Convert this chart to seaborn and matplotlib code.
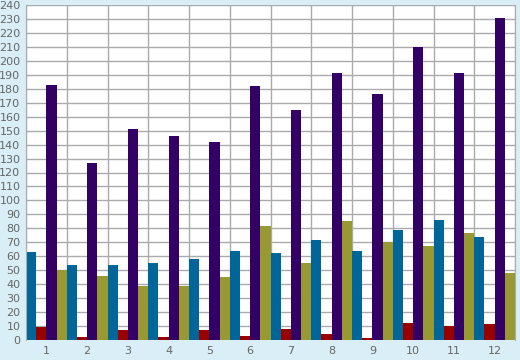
import numpy as np
import pandas as pd
import matplotlib
matplotlib.use("Agg")
import matplotlib.pyplot as plt
import seaborn as sns

# Data
months = ["1", "2", "3", "4", "5", "6", "7", "8", "9", "10", "11", "12"]
series_a = [63, 54, 54, 55, 58, 64, 62, 72, 64, 79, 86, 74]        # blue
series_b = [9, 2, 7, 2, 7, 3, 8, 4, 1.5, 12, 10, 11.5]               # red
series_c = [183, 127, 151, 146, 142, 182, 165, 191, 176, 210, 191, 231]  # purple
series_d = [50, 46, 39, 39, 45, 82, 55, 85, 70, 67, 77, 48]         # olive

series_names = ["A", "B", "C", "D"]
colors = ["#006699", "#990000", "#330066", "#999933"]

df = pd.DataFrame({
    "month": months * 4,
    "series": np.repeat(series_names, len(months)),
    "value": series_a + series_b + series_c + series_d,
})

sns.set_style("white")

fig = plt.figure(figsize=(5.2, 3.6), dpi=100)
fig.patch.set_facecolor("#D9EEF6")
ax = fig.add_axes([26 / 520, 20 / 360, 489 / 520, 335 / 360])
ax.set_facecolor("white")

sns.barplot(
    data=df, x="month", y="value", hue="series",
    order=months, hue_order=series_names,
    palette=colors, width=1.0, dodge=True,
    saturation=1, legend=False, ax=ax, linewidth=0,
)

ax.set_xlim(-0.5, len(months) - 0.5)
ax.set_ylim(0, 240)
ax.set_yticks(np.arange(0, 241, 10))
ax.set_xticks(np.arange(len(months)))
ax.set_xticklabels(months)
ax.set_xticks(np.arange(len(months) + 1) - 0.5, minor=True)

ax.grid(False)
ax.yaxis.grid(True, color="#AAAAAA", linewidth=1)
ax.xaxis.grid(True, which="minor", color="#AAAAAA", linewidth=1)
ax.set_axisbelow(True)

ax.tick_params(axis="x", which="major", length=0, labelsize=8,
               labelcolor="#666666", pad=4)
ax.tick_params(axis="x", which="minor", length=4, color="#888888",
               direction="out")
ax.tick_params(axis="y", length=2, color="#888888", labelsize=8,
               labelcolor="#666666", pad=2, direction="out")

for side in ["top", "bottom"]:
    ax.spines[side].set_visible(False)
for side in ["left", "right"]:
    ax.spines[side].set_visible(True)
    ax.spines[side].set_color("#AAAAAA")

ax.set_xlabel("")
ax.set_ylabel("")

fig.savefig("out.png", dpi=100, facecolor=fig.get_facecolor())
